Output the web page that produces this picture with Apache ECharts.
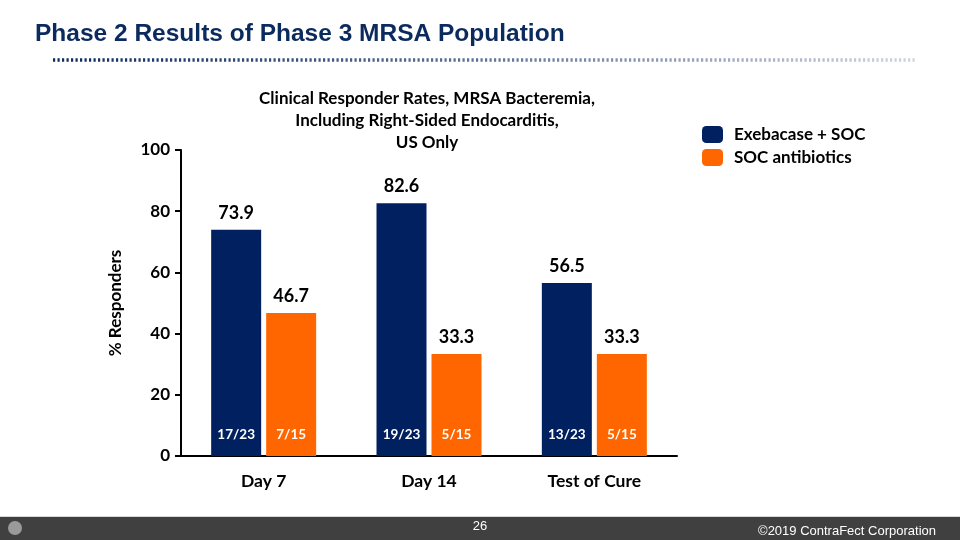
<!DOCTYPE html>
<html><head><meta charset="utf-8">
<script src="https://cdn.jsdelivr.net/npm/echarts@6/dist/echarts.min.js"></script>
<style>html,body{margin:0;padding:0;background:#fff}#c{width:960px;height:540px}</style>
</head><body><div id="c"></div>
<script>
const categories = ['Day 7', 'Day 14', 'Test of Cure'];
const exebacase = [73.9, 82.6, 56.5];
const socAntibiotics = [46.7, 33.3, 33.3];
const exebacaseFractions = ['17/23', '19/23', '13/23'];
const socFractions = ['7/15', '5/15', '5/15'];
const yTicks = [0, 20, 40, 60, 80, 100];
const seriesNames = ['Exebacase + SOC', 'SOC antibiotics'];

const NAVY = '#002060', ORANGE = '#FF6600';
const FONT = 'Lato';
const chart = echarts.init(document.getElementById('c'));

function fracSeries(name, vals, fr, color, stack) {
  return {
    name: name, type: 'bar', stack: stack, barWidth: 50,
    data: vals, itemStyle: { color: color },
    label: { show: true, position: 'insideBottom', distance: 14, color: '#fff',
      fontFamily: FONT, fontWeight: 'bold', fontSize: 13.5,
      formatter: p => fr[p.dataIndex] }
  };
}
function topSeries(name, vals, stack) {
  return {
    name: name + ' ', type: 'bar', stack: stack, barWidth: 50,
    data: vals.map(() => 0), itemStyle: { color: 'transparent' },
    label: { show: true, position: 'top', distance: 8, color: '#000',
      fontFamily: FONT, fontWeight: 'bold', fontSize: 18,
      formatter: p => vals[p.dataIndex].toFixed(1) }
  };
}

chart.setOption({
  animation: false,
  textStyle: { fontFamily: FONT },
  grid: { left: 181, top: 150, width: 496, bottom: 84, containLabel: false },
  title: {
    text: 'Clinical Responder Rates, MRSA Bacteremia,\nIncluding Right-Sided Endocarditis,\nUS Only',
    left: 422, top: 83, textAlign: 'center',
    textStyle: { fontFamily: FONT, fontWeight: 'bold', fontSize: 17, lineHeight: 22, color: '#000' }
  },
  legend: {
    data: seriesNames, orient: 'vertical', left: 697, top: 121, itemWidth: 21, itemHeight: 17, itemGap: 6,
    icon: 'roundRect',
    textStyle: { fontFamily: FONT, fontWeight: 'bold', fontSize: 17, color: '#000', padding: [0, 0, 0, 6] }
  },
  xAxis: {
    type: 'category', data: categories,
    axisLine: { lineStyle: { color: '#000', width: 2 } },
    axisTick: { show: false },
    axisLabel: { color: '#000', fontFamily: FONT, fontWeight: 'bold', fontSize: 17.5, margin: 16 }
  },
  yAxis: {
    type: 'value', min: yTicks[0], max: yTicks[yTicks.length - 1], interval: 20,
    name: '% Responders', nameLocation: 'middle', nameGap: 57, nameRotate: 90,
    nameTextStyle: { fontFamily: FONT, fontWeight: 'bold', fontSize: 17, color: '#000' },
    axisLine: { show: true, lineStyle: { color: '#000', width: 2 } },
    axisTick: { show: true, length: 6, lineStyle: { color: '#000', width: 2 } },
    splitLine: { show: false },
    axisLabel: { color: '#000', fontFamily: FONT, fontWeight: 'bold', fontSize: 17, margin: 11 }
  },
  series: [
    fracSeries(seriesNames[0], exebacase, exebacaseFractions, NAVY, 'e'),
    topSeries(seriesNames[0], exebacase, 'e'),
    fracSeries(seriesNames[1], socAntibiotics, socFractions, ORANGE, 's'),
    topSeries(seriesNames[1], socAntibiotics, 's')
  ],
  graphic: [
    { type: 'text', left: 35, top: 22, style: { text: 'Phase 2 Results of Phase 3 MRSA Population',
      fill: '#0B2A5E', font: 'bold 24.5px "Liberation Sans", Arial, sans-serif' } },
    { type: 'line', shape: { x1: 53, y1: 60, x2: 915, y2: 60 },
      style: { lineWidth: 3.5, lineDash: [2.2, 2.3],
        stroke: { type: 'linear', x: 53, y: 0, x2: 915, y2: 0, global: true,
          colorStops: [{ offset: 0, color: '#0B2A5E' }, { offset: 0.5, color: '#5F7396' }, { offset: 1, color: '#CDD4E1' }] } } },
    { type: 'rect', shape: { x: 0, y: 517, width: 960, height: 23 }, style: { fill: '#404040' } },
    { type: 'rect', shape: { x: 0, y: 516, width: 960, height: 1 }, style: { fill: '#D9D9D9' } },
    { type: 'circle', shape: { cx: 15, cy: 528, r: 7 }, style: { fill: '#9A9A9A' } },
    { type: 'text', x: 480, y: 526, style: { text: '26', fill: '#fff', align: 'center', verticalAlign: 'middle',
      font: '13px "Liberation Sans", Arial, sans-serif' } },
    { type: 'text', x: 936, y: 531, style: { text: '©2019 ContraFect Corporation', fill: '#fff', align: 'right', verticalAlign: 'middle',
      font: '13px "Liberation Sans", Arial, sans-serif' } }
  ]
});
</script></body></html>
